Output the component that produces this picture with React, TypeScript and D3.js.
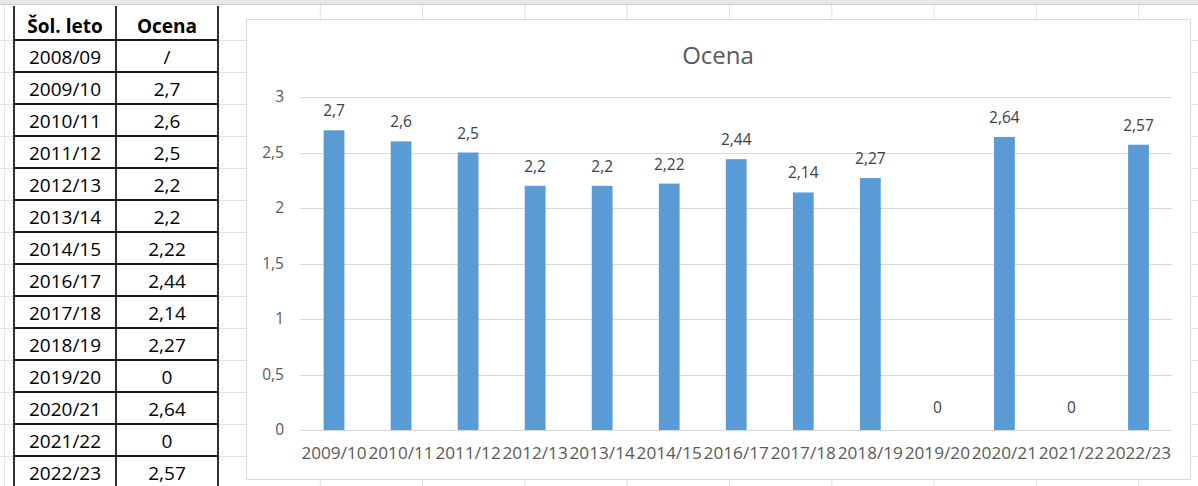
import React from 'react'
import * as d3 from 'd3'

// table on the sheet
const tableYears = ['2008/09', '2009/10', '2010/11', '2011/12', '2012/13', '2013/14', '2014/15',
  '2016/17', '2017/18', '2018/19', '2019/20', '2020/21', '2021/22', '2022/23']
const tableGrades = ['/', '2,7', '2,6', '2,5', '2,2', '2,2', '2,22', '2,44', '2,14', '2,27', '0', '2,64', '0', '2,57']

// chart series
const categories = ['2009/10', '2010/11', '2011/12', '2012/13', '2013/14', '2014/15', '2016/17',
  '2017/18', '2018/19', '2019/20', '2020/21', '2021/22', '2022/23']
const values = [2.7, 2.6, 2.5, 2.2, 2.2, 2.22, 2.44, 2.14, 2.27, 0, 2.64, 0, 2.57]
const yTicks = [0, 0.5, 1, 1.5, 2, 2.5, 3]

const W = 1198
const H = 486
const font = '"Open Sans", "Noto Sans", sans-serif'
const fmt = (v: number) => String(v).replace('.', ',')

export default function App() {
  // sheet grid
  const rowStep = 32
  const rowLines = d3.range(0, 15).map(i => 40 + i * rowStep)
  const colLines = d3.range(0, 11).map(i => 218 + i * 102.3)

  // chart box
  const box = { x: 246, y: 19, w: 944, h: 460 }

  const x = d3.scaleBand<string>()
    .domain(categories)
    .range([300.5, 1172])
    .paddingInner(0.69)
    .paddingOuter(0.345)

  const y = d3.scaleLinear().domain([0, 3]).range([430, 97])

  return (
    <svg width={W} height={H} style={{ position: 'absolute', left: 0, top: 0, background: '#fff' }}>
      {/* sheet background */}
      <rect x={0} y={0} width={W} height={4} fill="#e8e8e8" />
      <line x1={0} x2={W} y1={4.5} y2={4.5} stroke="#cdcdcd" />
      <line x1={4.5} x2={4.5} y1={5} y2={H} stroke="#e4e4e4" />
      {rowLines.map(ry => (
        <line key={'r' + ry} x1={0} x2={W} y1={ry + 0.5} y2={ry + 0.5} stroke="#e1e1e1" />
      ))}
      {colLines.map(cx => (
        <line key={'c' + cx} x1={cx} x2={cx} y1={5} y2={H} stroke="#e1e1e1" />
      ))}

      {/* table */}
      <rect x={14} y={5} width={204} height={H} fill="#fff" />
      {rowLines.map(ry => (
        <line key={'tr' + ry} x1={14} x2={218} y1={ry} y2={ry} stroke="#1a1a1a" strokeWidth={1.8} />
      ))}
      {[14, 116, 218].map(cx => (
        <line key={'tc' + cx} x1={cx} x2={cx} y1={6} y2={H} stroke="#1a1a1a" strokeWidth={1.8} />
      ))}
      <g fontFamily={font} fontSize={19} fill="#000" textAnchor="middle">
        <text x={65} y={33} fontWeight="bold">Šol. leto</text>
        <text x={167} y={33} fontWeight="bold">Ocena</text>
        {tableYears.map((yr, i) => (
          <g key={yr}>
            <text x={65} y={40 + (i + 1) * rowStep - 8}>{yr}</text>
            <text x={167} y={40 + (i + 1) * rowStep - 8}>{tableGrades[i]}</text>
          </g>
        ))}
      </g>

      {/* chart */}
      <rect x={box.x + 0.5} y={box.y + 0.5} width={box.w} height={box.h} fill="#fff" stroke="#d9d9d9" />
      <text x={box.x + box.w / 2} y={64} textAnchor="middle" fontFamily={font} fontSize={24} fill="#595959">Ocena</text>

      {yTicks.map(t => (
        <g key={t}>
          <line x1={300.5} x2={1172} y1={Math.round(y(t)) + 0.5} y2={Math.round(y(t)) + 0.5} stroke="#d9d9d9" />
          <text x={284} y={y(t)} dy="0.35em" textAnchor="end" fontFamily={font} fontSize={15.5} fill="#595959">{fmt(t)}</text>
        </g>
      ))}

      {categories.map((c, i) => (
        <g key={c}>
          <rect x={x(c)} y={y(values[i])} width={x.bandwidth()} height={y(0) - y(values[i])} fill="#5b9bd5" />
          <text x={(x(c) ?? 0) + x.bandwidth() / 2} y={y(values[i]) - (values[i] === 0 ? 17 : 14)}
            textAnchor="middle" fontFamily={font} fontSize={15.5} fill="#404040">{fmt(values[i])}</text>
          <text x={(x(c) ?? 0) + x.bandwidth() / 2} y={459}
            textAnchor="middle" fontFamily={font} fontSize={17.2} fill="#595959">{c}</text>
        </g>
      ))}
    </svg>
  )
}
